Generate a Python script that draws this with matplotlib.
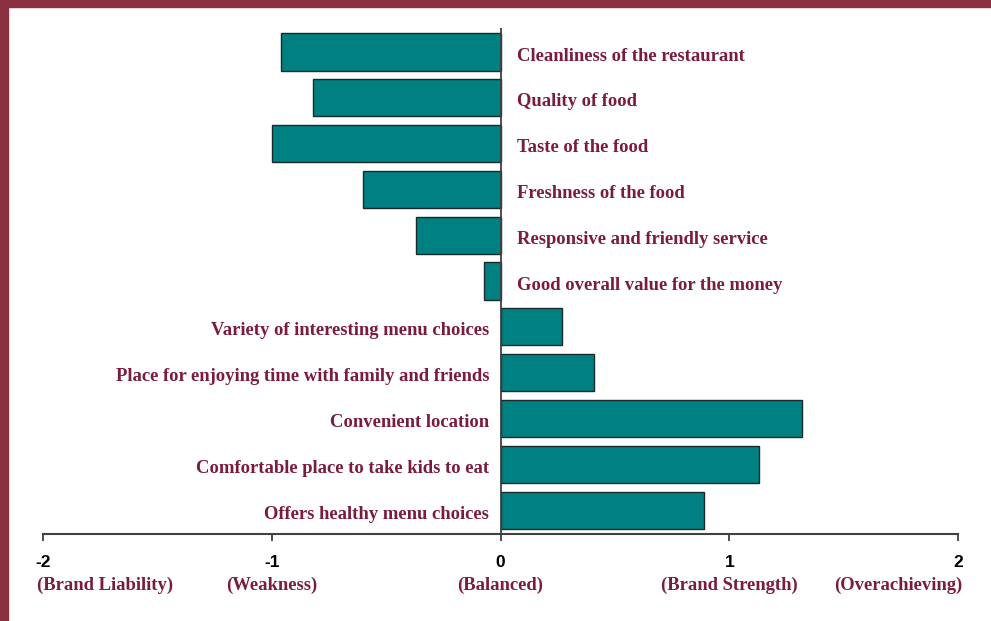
import matplotlib.pyplot as plt
from matplotlib.patches import Rectangle
from matplotlib.transforms import blended_transform_factory

# attributes listed top to bottom
attributes = ['Cleanliness of the restaurant', 'Quality of food', 'Taste of the food',
              'Freshness of the food', 'Responsive and friendly service',
              'Good overall value for the money', 'Variety of interesting menu choices',
              'Place for enjoying time with family and friends', 'Convenient location',
              'Comfortable place to take kids to eat', 'Offers healthy menu choices']
scores = [-0.96, -0.82, -1.0, -0.60, -0.37, -0.07, 0.27, 0.41, 1.32, 1.13, 0.89]
tick_values = [-2, -1, 0, 1, 2]
tick_names = ['(Brand Liability)', '(Weakness)', '(Balanced)', '(Brand Strength)', '(Overachieving)']

maroon = '#7b1d3a'
serif = ['Liberation Serif', 'DejaVu Serif']

fig = plt.figure(figsize=(9.91, 6.21), dpi=100)
ax = fig.add_axes([0.0434, 0.14, 0.9233, 0.815])

n = len(attributes)
ypos = [n - 1 - i for i in range(n)]
ax.barh(ypos, scores, height=0.81, color='#008080', edgecolor='#1a2a2a', linewidth=1, zorder=2)

for y, name, v in zip(ypos, attributes, scores):
    if v < 0:
        ax.text(0.07, y - 0.09, name, ha='left', va='center', color=maroon,
                fontsize=13.4, fontweight='bold', family=serif)
    else:
        ax.text(-0.05, y - 0.09, name, ha='right', va='center', color=maroon,
                fontsize=13.4, fontweight='bold', family=serif)

ax.set_xlim(-2, 2)
ax.set_ylim(-0.524, n - 1 + 0.524)
ax.axvline(0, color='#404040', linewidth=1.3, zorder=3)

for s in ['top', 'right', 'left']:
    ax.spines[s].set_visible(False)
ax.spines['bottom'].set_color('#404040')
ax.spines['bottom'].set_linewidth(1.5)
ax.set_yticks([])
ax.set_xticks(tick_values)
ax.set_xticklabels([str(t) for t in tick_values], fontsize=12.5, fontweight='bold', family='Liberation Sans')
ax.tick_params(axis='x', direction='out', length=5, width=1.3, color='#404040', pad=10)

trans = blended_transform_factory(ax.transData, ax.transAxes)
aligns = ['left', 'center', 'center', 'center', 'right']
offsets = [-0.027, 0, 0, 0, 0.018]
for t, name, ha, dx in zip(tick_values, tick_names, aligns, offsets):
    ax.text(t + dx, -0.101, name, transform=trans, ha=ha, va='center', color=maroon,
            fontsize=13.4, fontweight='bold', family=serif)

# slide frame
fig.patches.append(Rectangle((0, 0), 8 / 991, 1, transform=fig.transFigure, color='#8a3040', zorder=0))
fig.patches.append(Rectangle((0, 1 - 7 / 621), 1, 7 / 621, transform=fig.transFigure, color='#8a3040', zorder=0))

fig.savefig('out.png', dpi=100)
